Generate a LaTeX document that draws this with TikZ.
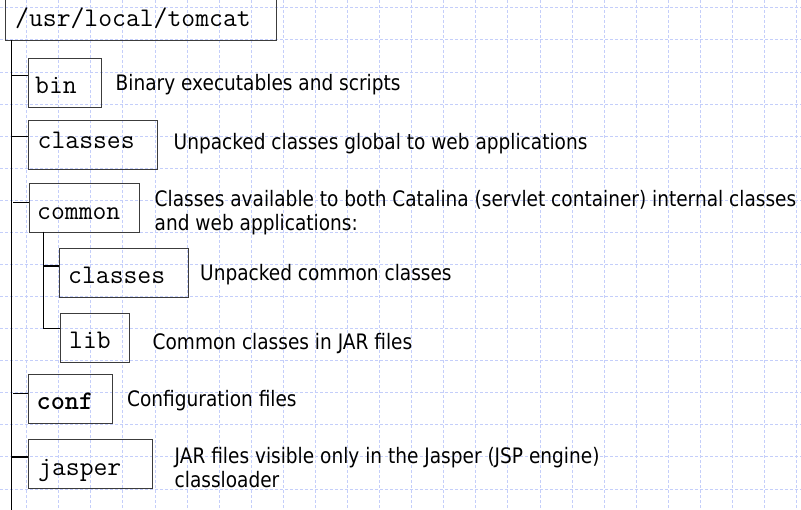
\documentclass[tikz,border=0pt]{standalone}
\usepackage{fontspec}
\setmainfont{DejaVu Sans}[FakeStretch=0.87]
\definecolor{gridblue}{RGB}{196,206,250}
\definecolor{boxgray}{RGB}{60,60,60}
\begin{document}
\begin{tikzpicture}[x=1pt,y=-1pt,
  gridline/.style={draw=gridblue, line width=0.9pt, dash pattern=on 3pt off 2pt},
  dirbox/.style={draw=boxgray, line width=0.9pt, rectangle, inner sep=0pt, anchor=north west},
  monotext/.style={font=\fontsize{26.9}{28}\selectfont\ttfamily, inner sep=0pt, anchor=base west},
  desc/.style={font=\fontsize{21.3}{24}\selectfont, inner sep=0pt, anchor=base west, align=left},
  conn/.style={draw=black, line width=1pt},
  connthick/.style={draw=black, line width=2pt},
  trunk/.style={draw=black, line width=1.5pt}]
\useasboundingbox (0,0) rectangle (801,509);
\fill[white] (0,0) rectangle (801,509);
% grid
\foreach \i in {0,...,24} \draw[gridline] ({26.7+32.08*\i},0) -- ({26.7+32.08*\i},509);
\foreach \j in {0,...,15} \draw[gridline] (0,{7.8+32.08*\j}) -- (801,{7.8+32.08*\j});
% boxes
\node[dirbox, minimum width=271.3pt, minimum height=42pt] (root) at (4.7,-2) {};
\node[dirbox, minimum width=73pt, minimum height=49pt] (bin) at (28.3,58.3) {};
\node[dirbox, minimum width=129pt, minimum height=49pt] (classes) at (28.3,120) {};
\node[dirbox, minimum width=110.3pt, minimum height=48.4pt] (common) at (29,183.3) {};
\node[dirbox, minimum width=129pt, minimum height=49pt] (subcls) at (59.3,248.3) {};
\node[dirbox, minimum width=68.4pt, minimum height=49pt] (lib) at (60.3,313.3) {};
\node[dirbox, minimum width=83.4pt, minimum height=49pt] (conf) at (28.3,374.3) {};
\node[dirbox, minimum width=124pt, minimum height=48.4pt] (jasper) at (28.3,439.3) {};
% box labels
\node[monotext] (rootT) at (15,26) {/usr/local/tomcat};
\node[monotext] (binT) at (35,93) {bin};
\node[monotext] (classesT) at (37.5,148) {classes};
\node[monotext] (commonT) at (37,219.3) {common};
\node[monotext] (subclsT) at (68,283.3) {classes};
\node[monotext] (libT) at (69,348.3) {lib};
\node[monotext] (confT) at (36.5,409.3) {\bfseries conf};
\node[monotext] (jasperT) at (38,475) {jasper};
% descriptions
\node[desc] (d1) at (115.5,90.7) {Binary executables and scripts};
\node[desc] (d2) at (173.5,149) {Unpacked classes global to web applications};
\node[desc] (d3) at (154.5,230) {Classes available to both Catalina (servlet container) internal classes\\and web applications:};
\node[desc] (d4) at (200,280) {Unpacked common classes};
\node[desc] (d5) at (152.5,349.3) {Common classes in JAR files};
\node[desc] (d6) at (127,406) {Configuration files};
\node[desc] (d7) at (174.5,487.3) {JAR files visible only in the Jasper (JSP engine)\\classloader};
% trunk
\coordinate (tTop) at (11.7,40);
\coordinate (tBot) at (11.7,512);
\draw[trunk] (tTop) -- (tBot);
\coordinate (b1) at (11.7,75.7);
\coordinate (b2) at (11.7,136);
\coordinate (b3) at (13.3,202.7);
\coordinate (b4) at (13.3,393.3);
\coordinate (b5) at (11.7,456.7);
\draw[conn] (b1) -- (b1 -| bin.west);
\draw[conn] (b2) -- (b2 -| classes.west);
\draw[conn] (b3) -- (b3 -| common.west);
\draw[conn] (b4) -- (b4 -| conf.west);
\draw[connthick] (b5) -- (b5 -| jasper.west);
% sub trunk
\coordinate (s0) at (43.3,231.7);
\coordinate (s1) at (43.3,266);
\coordinate (s2) at (43.3,328.3);
\draw[conn] (s0) -- (s2) -- (s2 -| lib.west);
\draw[connthick] (s1) -- (s1 -| subcls.west);
\end{tikzpicture}
\end{document}
